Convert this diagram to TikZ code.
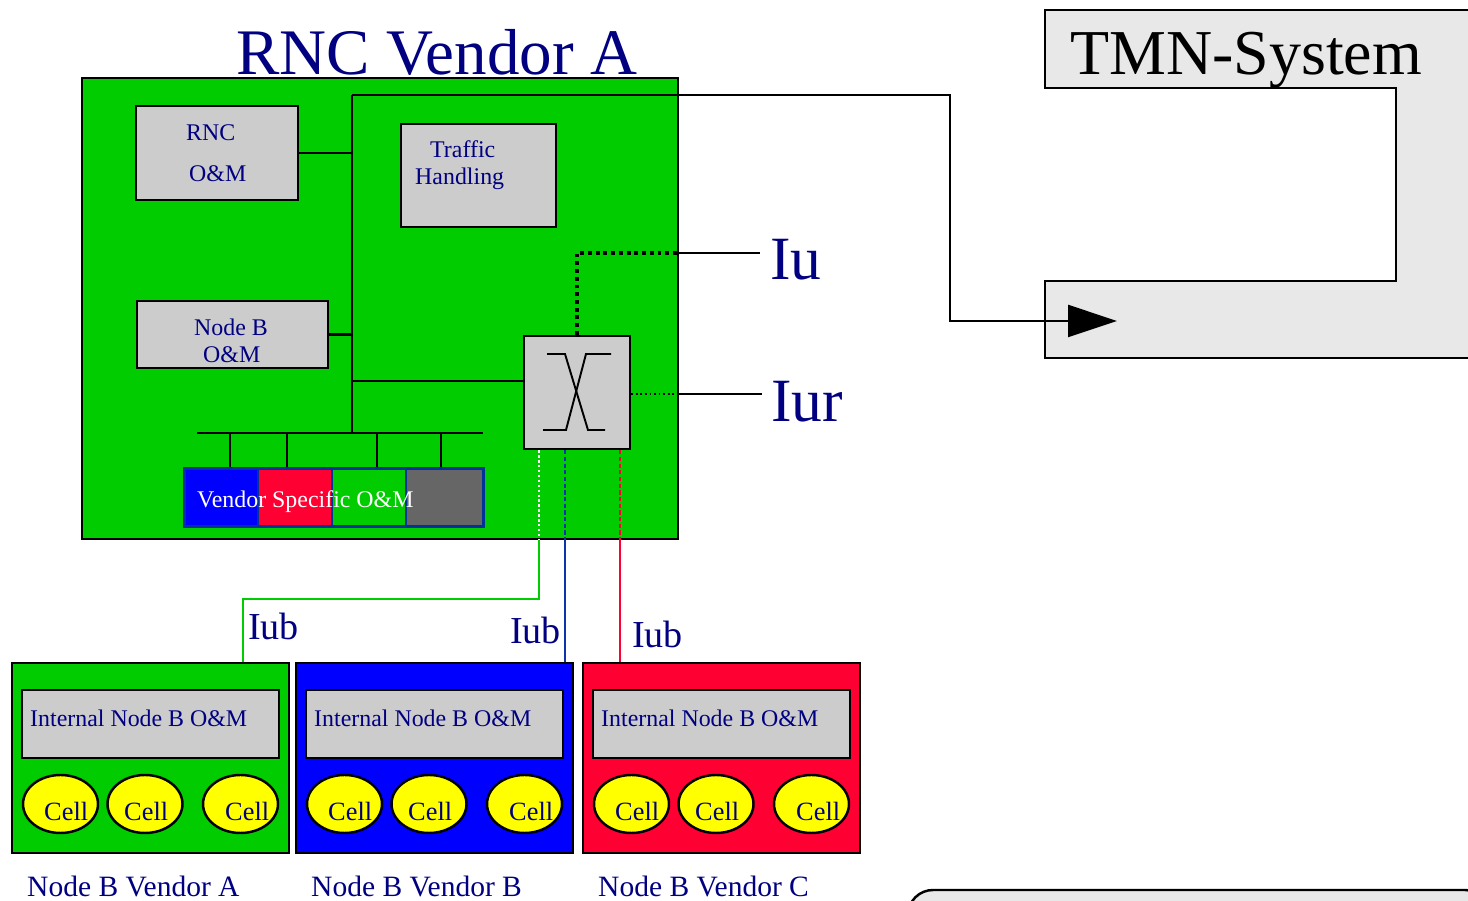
\documentclass[tikz,border=0pt]{standalone}
\usepackage{fontspec}
\setmainfont{Liberation Serif}
\usetikzlibrary{positioning,arrows.meta,shapes.geometric}

\definecolor{rncgreen}{HTML}{00CC00}
\definecolor{txtblue}{HTML}{000080}
\definecolor{boxgray}{HTML}{CCCCCC}
\definecolor{vblue}{HTML}{0000FF}
\definecolor{vred}{HTML}{FF0033}
\definecolor{omgray}{HTML}{666666}
\definecolor{tmngray}{HTML}{E8E8E8}
\definecolor{barblue}{HTML}{003399}
\definecolor{iubblue}{HTML}{1133AA}
\definecolor{cellyellow}{HTML}{FFFF00}

\newcommand{\fsz}[1]{\fontsize{#1}{#1}\selectfont}

\tikzset{
  sz/.style 2 args={minimum width=#1*0.02cm, minimum height=#2*0.02cm},
  greybox/.style={draw, fill=boxgray, inner sep=0pt},
  lbl/.style={text=txtblue, inner sep=0pt, anchor=base west},
  omlbl/.style={lbl, font=\fsz{13.6}},
  cell/.style={ellipse, draw, fill=cellyellow, inner sep=0pt, sz={75}{58}},
  iudots/.style={line width=2.2pt, dash pattern=on 2.2pt off 2.2pt},
}

\begin{document}
\begin{tikzpicture}[x=0.02cm, y=-0.02cm, line width=1.4pt]
  \useasboundingbox (0,0) rectangle (1468,901);

  % ---- TMN system ----
  \draw[fill=tmngray] (1045,10) -- (1480,10) -- (1480,358) -- (1045,358)
    -- (1045,281) -- (1396,281) -- (1396,88) -- (1045,88) -- cycle;
  \node[lbl, text=black, font=\fsz{36.4}] (tmn) at (1069,75) {TMN-System};
  \draw[fill=tmngray, rounded corners=0.5cm] (908,940) -- (908,890) -- (1490,890) -- (1490,940);

  % ---- RNC ----
  \node[draw, fill=rncgreen, inner sep=0pt, sz={596}{461}] (rnc) at (380,308.5) {};
  \node[lbl, font=\fsz{37}] (title) at (235,75) {RNC Vendor A};

  \node[greybox, sz={162}{94}] (rncom) at (217,153) {};
  \node[omlbl] (rncoma) at (185,141) {RNC};
  \node[omlbl] (rncomb) at (188,182) {O\&M};
  \node[greybox, sz={155}{103}] (traffic) at (478.5,175.5) {};
  \node[omlbl] (traffica) at (429,158) {Traffic};
  \node[omlbl] (trafficb) at (414,185) {Handling};
  \node[greybox, sz={191}{67}] (nbom) at (232.5,334.5) {};
  \node[omlbl] (nboma) at (193,336) {Node B};
  \node[omlbl] (nbomb) at (202,363) {O\&M};

  % vendor specific bar
  \node[draw=barblue, fill=vblue, inner sep=0pt, sz={74}{58}, anchor=north west] (vs1) at (183,467) {};
  \node[draw=barblue, fill=vred, inner sep=0pt, sz={74}{58}, anchor=north west] (vs2) at (257,467) {};
  \node[draw=barblue, fill=rncgreen, inner sep=0pt, sz={74}{58}, anchor=north west] (vs3) at (331,467) {};
  \node[draw=barblue, fill=omgray, inner sep=0pt, sz={77}{58}, anchor=north west] (vs4) at (405,467) {};
  \node[draw=barblue, line width=1.6pt, inner sep=0pt, sz={299}{58}, anchor=north west] (vsom) at (183,467) {};
  \node[lbl, text=white, font=\fsz{13.6}] (vstxt) at (196,508) {Vendor Specific O\&M};

  % switch
  \node[greybox, sz={106}{113}] (sw) at (577,392.5) {};
  \draw[line width=1.1pt] (547,354) -- (565,354) -- (588,430) -- (605,430);
  \draw[line width=1.1pt] (611,354) -- (586,354) -- (566,430) -- (543,430);

  % ---- internal bus ----
  \coordinate (bustop) at (352,95);
  \coordinate (busbot) at (352,433);
  \coordinate (turn) at (950,95);
  \coordinate (tip) at (1117,321);
  \coordinate (swin) at (524,381);
  \draw (busbot) -- (bustop);
  \draw[-{Triangle[length=0.98cm, width=0.64cm]}] (bustop) -- (turn) |- (tip);
  \draw (rncom.east) -- (rncom.east -| bustop);
  \draw (nbom.east) -- (nbom.east -| bustop);
  \draw (swin) -- (swin -| bustop);
  \draw (197,433) -- (483,433);
  \foreach \x in {230,287,377,441}
    \draw (\x,433) -- (vsom.north -| \x,0);

  % ---- Iu / Iur ----
  \coordinate (iu) at (760,253);
  \coordinate (iur) at (762,394);
  \draw[iudots] (sw.north) |- (rnc.east |- iu);
  \draw (rnc.east |- iu) -- (iu);
  \draw[line width=1pt, dash pattern=on 1pt off 1.6pt] (sw.east |- iur) -- (rnc.east |- iur);
  \draw (rnc.east |- iur) -- (iur);
  \node[lbl, font=\fsz{35}] (iulbl) at (769,280) {Iu};
  \node[lbl, font=\fsz{35}] (iurlbl) at (770,422) {Iur};

  % ---- Iub ----
  \coordinate (iubA) at (243,663);
  \coordinate (iubB) at (565,663);
  \coordinate (iubC) at (620,663);
  \draw[white, line width=1.2pt, dash pattern=on 1.4pt off 1.4pt] (sw.south -| 539,0) -- (rnc.south -| 539,0);
  \draw[rncgreen] (rnc.south -| 539,0) -- (539,599) -| (iubA);
  \draw[iubblue, dash pattern=on 2.4pt off 1.4pt] (sw.south -| iubB) -- (rnc.south -| iubB);
  \draw[iubblue] (rnc.south -| iubB) -- (iubB);
  \draw[vred, dash pattern=on 2.4pt off 1.4pt] (sw.south -| iubC) -- (rnc.south -| iubC);
  \draw[vred] (rnc.south -| iubC) -- (iubC);
  \node[lbl, font=\fsz{21.7}] (iubla) at (247,640) {Iub};
  \node[lbl, font=\fsz{21.7}] (iublb) at (509,644) {Iub};
  \node[lbl, font=\fsz{21.7}] (iublc) at (631,648) {Iub};

  % ---- Node B vendors ----
  \foreach \v/\col/\dx in {A/rncgreen/0, B/vblue/284, C/vred/571}{
    \begin{scope}[xshift=\dx*0.02cm]
      \node[draw, fill=\col, inner sep=0pt, sz={277}{190}] (nb\v) at (150.5,758) {};
      \node[greybox, sz={257}{68}] (int\v) at (150.5,724) {};
      \node[lbl, font=\fsz{13.6}] (intlbl\v) at (29,727) {Internal Node B O\&M};
      \foreach \c/\cx/\tx in {1/60.5/43, 2/145/123, 3/240.5/224}{
        \node[cell] (cell\v\c) at (\cx,804) {};
        \node[lbl, font=\fsz{15}] (celllbl\v\c) at (\tx,821) {Cell};
      }
      \node[lbl, font=\fsz{16.8}] (vendorlbl\v) at (26,897) {Node B Vendor \v};
    \end{scope}
  }
\end{tikzpicture}
\end{document}
